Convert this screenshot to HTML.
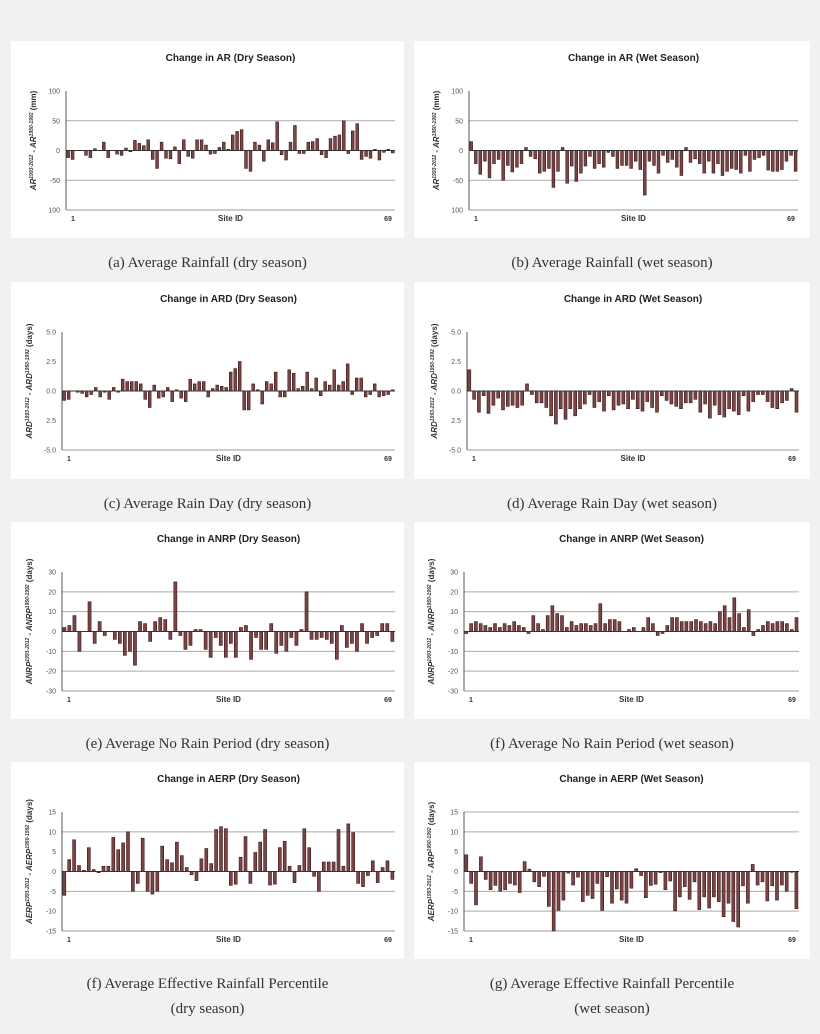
<!DOCTYPE html><html><head><style>
body{margin:0;background:#f1f1f1;width:820px;height:1034px;overflow:hidden}
svg{display:block}
</style></head><body>
<svg id="s" width="820" height="1034" xmlns="http://www.w3.org/2000/svg" font-family="Liberation Sans, sans-serif"></svg>
<script>
const S=document.getElementById('s');let h='';
function P(o){
 const {bx,by,bw,bh,ax,right,top,bot,min,max,ticks,grid,vals,title,ylab,cap}=o;
 h+=`<rect x="${bx}" y="${by}" width="${bw}" height="${bh}" fill="#fff"/>`;
 h+=`<text x="${(ax+right)/2}" y="${by+20}" font-size="10" font-weight="bold" text-anchor="middle" fill="#222">${title}</text>`;
 const Y=v=>top+(max-v)/(max-min)*(bot-top);
 grid.forEach(g=>{h+=`<line x1="${ax}" x2="${right}" y1="${Y(g)}" y2="${Y(g)}" stroke="#aaa" stroke-width="1"/>`});
 ticks.forEach(t=>{h+=`<text x="${ax-6}" y="${Y(t[0])+2.5}" font-size="7" text-anchor="end" fill="#555">${t[1]}</text>`});
 h+=`<line x1="${ax}" x2="${ax}" y1="${top}" y2="${bot}" stroke="#555"/>`;
 h+=`<line x1="${ax}" x2="${right}" y1="${bot}" y2="${bot}" stroke="#999"/>`;
 const n=vals.length,st=(right-ax)/n,z=Y(0);
 vals.forEach((v,i)=>{const y=Y(v);const x=ax+i*st+0.8;
  h+=`<rect x="${x.toFixed(1)}" y="${Math.min(y,z).toFixed(1)}" width="${(st*0.62).toFixed(1)}" height="${Math.abs(y-z).toFixed(1)}" fill="#7c4444" stroke="#3a1a1a" stroke-width="0.6"/>`});
 h+=`<line x1="${ax}" x2="${right}" y1="${z}" y2="${z}" stroke="#333"/>`;
 h+=`<text x="${ax+7}" y="${bot+11}" font-size="7" font-weight="bold" fill="#333" text-anchor="middle">1</text>`;
 h+=`<text x="${right-7}" y="${bot+11}" font-size="7" font-weight="bold" fill="#333" text-anchor="middle">69</text>`;
 h+=`<text x="${(ax+right)/2}" y="${bot+11}" font-size="8" font-weight="bold" fill="#333" text-anchor="middle">Site ID</text>`;
 h+=`<text transform="translate(${ax-30},${(top+bot)/2-10}) rotate(-90)" font-size="8" font-style="italic" font-weight="bold" text-anchor="middle" fill="#333">${ylab}</text>`;
 cap.forEach((c,i)=>{h+=`<text x="${bx+bw/2}" y="${by+bh+29+i*25}" font-size="15" font-family="Liberation Serif, serif" text-anchor="middle" fill="#333">${c}</text>`});
}
const a=[-12,-15,0,0,-8,-12,3,0,14,-12,0,-6,-8,4,-2,17,12,8,18,-15,-30,14,-13,-14,6,-22,18,-10,-13,18,18,9,-6,-5,5,14,2,26,32,35,-30,-35,14,9,-18,18,13,48,-7,-16,14,42,-5,-5,14,15,20,-7,-12,20,24,26,50,-5,33,45,-15,-10,-13,2,-16,-3,2,-4];
const b=[15,-22,-40,-18,-46,-22,-15,-50,-25,-36,-28,-22,5,-10,-14,-38,-35,-30,-62,-35,5,-55,-26,-52,-38,-26,-10,-30,-22,-28,-3,-10,-30,-25,-25,-30,-18,-32,-75,-18,-25,-38,-8,-20,-15,-28,-42,5,-20,-14,-22,-38,-18,-38,-22,-42,-35,-30,-32,-38,-8,-35,-15,-12,-8,-33,-35,-35,-32,-18,-8,-35];
const c=[-.8,-.7,0,-.1,-.2,-.5,-.3,.3,-.5,-.1,-.7,.3,-.1,1,.8,.8,.8,.6,-.7,-1.4,.5,-.6,-.5,.3,-.9,.1,-.6,-.9,1,.6,.8,.8,-.5,.2,.5,.4,.3,1.6,1.9,2.5,-1.6,-1.6,.6,.1,-1.1,.8,.6,1.6,-.5,-.5,1.8,1.5,.2,.4,1.6,.2,1.1,-.4,.8,.5,1.8,.5,.8,2.3,-.3,1.1,1.1,-.5,-.3,.6,-.5,-.4,-.3,.1];
const d=[1.8,-.7,-1.8,-.4,-1.9,-1.2,-.6,-1.6,-1.3,-1.2,-1.4,-1.2,.6,-.3,-1,-1,-1.4,-2.1,-2.8,-1.5,-2.4,-1.5,-2.1,-1.5,-1.1,-.3,-1.4,-.9,-1.7,-.4,-1.6,-1.2,-1.1,-1.5,-.7,-1.5,-1.7,-.9,-1.4,-1.8,-.4,-.8,-1.1,-1.3,-1.5,-1,-1,-.7,-1.8,-1.1,-2.3,-1.2,-2,-2.2,-1.5,-1.7,-2,-.4,-1.7,-.9,-.3,-.3,-.9,-1.4,-1.5,-1,-.8,.2,-1.8];
const e=[2,3,8,-10,0,15,-6,5,-2,0,-4,-6,-12,-10,-17,5,4,-5,5,7,6,-4,25,-2,-9,-7,1,1,-9,-13,-3,-7,-13,-6,-13,2,3,-14,-3,-9,-9,4,-11,-7,-10,-3,-7,1,20,-4,-4,-3,-4,-6,-14,3,-8,-6,-10,4,-6,-3,-2,4,4,-5];
const f=[-1,4,5,4,3,2,4,2,4,3,5,3,2,-1,8,4,1,8,13,9,8,2,5,3,4,4,3,4,14,4,6,6,5,0,1,2,0,2,7,4,-2,-1,3,7,7,5,5,5,6,5,4,5,4,10,13,7,17,9,2,11,-2,1,3,5,4,5,5,4,1,7];
const g=[-6,3,8,1.5,.3,6,.5,-.3,1.3,1.3,8.6,5.5,7.2,10,-5,-3,8.4,-5,-5.7,-5,6.4,3,2.2,7.4,4,1,-.8,-2.3,3.2,5.8,2,10.6,11.3,10.8,-3.5,-3.2,3.6,8.8,-3,4.8,7.4,10.6,-3.4,-3.2,6,7.6,1.3,-2.8,1.5,10.8,6,-1.2,-5,2.4,2.4,2.4,10.6,1.3,12,9.8,-3,-3.8,-1,2.7,-2.8,1,2.7,-2];
const k=[4.2,-3,-8.4,3.7,-2,-4.6,-3.5,-5,-4.6,-3,-3.4,-5.3,2.5,.6,-2.6,-3.8,-1.2,-8.8,-15,-9.8,-7.2,-.4,-3.4,-1.4,-7.6,-6,-6.8,-3,-9.8,-1.3,-8,-4.4,-7.2,-8,-4.2,.7,-1,-6.6,-3.5,-3.2,-.3,-4.6,-2.4,-9.9,-6.4,-3.8,-7,-2.6,-9.6,-6.4,-9.2,-6.4,-7.6,-11.4,-8,-12.6,-14,-3.6,-8,1.8,-3.4,-2.6,-7.4,-3.6,-7.2,-3.4,-5,-.2,-9.4];
const tA=[[100,'100'],[50,'50'],[0,'0'],[-50,'-50'],[-100,'100']];
const tC=[[5,'5.0'],[2.5,'2.5'],[0,'0.0'],[-2.5,'2.5'],[-5,'-5.0']];
const tE=[[30,'30'],[20,'20'],[10,'10'],[0,'0'],[-10,'-10'],[-20,'-20'],[-30,'-30']];
const tG=[[15,'15'],[10,'10'],[5,'5'],[0,'0'],[-5,'-5'],[-10,'-10'],[-15,'-15']];
const L={bx:11,bw:393},R={bx:414,bw:396};
P({...L,by:41,bh:197,ax:66,right:395,top:91,bot:210,min:-100,max:100,ticks:tA,grid:[50,-50],vals:a,title:'Change in AR (Dry Season)',ylab:'AR<tspan font-size="5" dy="-3">1993-2012</tspan><tspan dy="3"> - AR</tspan><tspan font-size="5" dy="-3">1950-1992</tspan><tspan dy="3" font-style="normal"> (mm)</tspan>',cap:['(a) Average Rainfall (dry season)']});
P({...R,by:41,bh:197,ax:469,right:798,top:91,bot:210,min:-100,max:100,ticks:tA,grid:[50,-50],vals:b,title:'Change in AR (Wet Season)',ylab:'AR<tspan font-size="5" dy="-3">1993-2012</tspan><tspan dy="3"> - AR</tspan><tspan font-size="5" dy="-3">1950-1992</tspan><tspan dy="3" font-style="normal"> (mm)</tspan>',cap:['(b) Average Rainfall (wet season)']});
P({...L,by:282,bh:197,ax:62,right:395,top:332,bot:450,min:-5,max:5,ticks:tC,grid:[],vals:c,title:'Change in ARD (Dry Season)',ylab:'ARD<tspan font-size="5" dy="-3">1993-2012</tspan><tspan dy="3"> - ARD</tspan><tspan font-size="5" dy="-3">1950-1992</tspan><tspan dy="3" font-style="normal"> (days)</tspan>',cap:['(c) Average Rain Day (dry season)']});
P({...R,by:282,bh:197,ax:467,right:799,top:332,bot:450,min:-5,max:5,ticks:tC,grid:[],vals:d,title:'Change in ARD (Wet Season)',ylab:'ARD<tspan font-size="5" dy="-3">1993-2012</tspan><tspan dy="3"> - ARD</tspan><tspan font-size="5" dy="-3">1950-1992</tspan><tspan dy="3" font-style="normal"> (days)</tspan>',cap:['(d) Average Rain Day (wet season)']});
P({...L,by:522,bh:197,ax:62,right:395,top:572,bot:691,min:-30,max:30,ticks:tE,grid:[20,10,-10,-20],vals:e,title:'Change in ANRP (Dry Season)',ylab:'ANRP<tspan font-size="5" dy="-3">1993-2012</tspan><tspan dy="3"> - ANRP</tspan><tspan font-size="5" dy="-3">1950-1992</tspan><tspan dy="3" font-style="normal"> (days)</tspan>',cap:['(e) Average No Rain Period (dry season)']});
P({...R,by:522,bh:197,ax:464,right:799,top:572,bot:691,min:-30,max:30,ticks:tE,grid:[20,10,-10,-20],vals:f,title:'Change in ANRP (Wet Season)',ylab:'ANRP<tspan font-size="5" dy="-3">1993-2012</tspan><tspan dy="3"> - ANRP</tspan><tspan font-size="5" dy="-3">1950-1992</tspan><tspan dy="3" font-style="normal"> (days)</tspan>',cap:['(f) Average No Rain Period (wet season)']});
P({...L,by:762,bh:197,ax:62,right:395,top:812,bot:931,min:-15,max:15,ticks:tG,grid:[10,-5],vals:g,title:'Change in AERP (Dry Season)',ylab:'AERP<tspan font-size="5" dy="-3">1993-2012</tspan><tspan dy="3"> - AERP</tspan><tspan font-size="5" dy="-3">1950-1992</tspan><tspan dy="3" font-style="normal"> (days)</tspan>',cap:['(f) Average Effective Rainfall Percentile','(dry season)']});
P({...R,by:762,bh:197,ax:464,right:799,top:812,bot:931,min:-15,max:15,ticks:tG,grid:[15,10,-5,-10],vals:k,title:'Change in AERP (Wet Season)',ylab:'AERP<tspan font-size="5" dy="-3">1993-2012</tspan><tspan dy="3"> - ARP</tspan><tspan font-size="5" dy="-3">1950-1992</tspan><tspan dy="3" font-style="normal"> (days)</tspan>',cap:['(g) Average Effective Rainfall Percentile','(wet season)']});
S.innerHTML=h;
</script>
</body></html>
